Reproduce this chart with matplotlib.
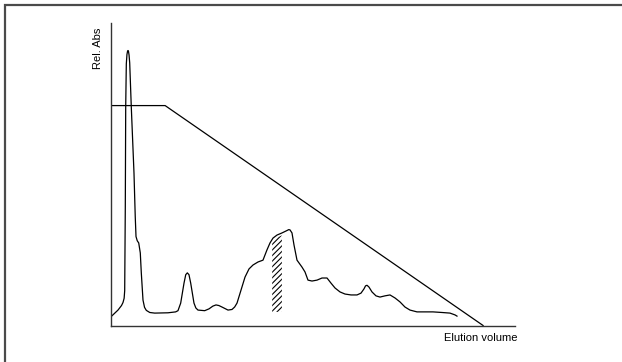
import numpy as np
import matplotlib
matplotlib.use("Agg")
import matplotlib.pyplot as plt
from matplotlib.patches import Rectangle

plt.rcParams['font.family'] = ['Liberation Sans', 'DejaVu Sans']

# chromatogram trace (elution volume, relative absorbance)
volume = [0.0, 1.73, 2.6, 2.97, 3.25, 3.39, 3.54, 3.64, 3.79, 3.95, 4.1, 4.21,
          4.32, 4.47, 4.63, 5.02, 5.69, 6.0, 6.19, 6.5,
          6.86, 7.25, 7.50, 7.92, 8.3, 8.74, 9.6, 10.82, 14.11, 16.0, 16.58,
          17.25, 18.07, 18.5, 18.89, 19.3,
          19.73, 20.54, 21.0, 21.53, 23.19, 24.26, 25.2, 25.99, 26.7, 27.48, 28.96,
          29.95, 30.6, 31.19,
          32.18, 33.17, 34.16, 35.15, 36.39, 37.62, 38.61, 39.36, 40.10, 41.09,
          42.33, 43.56, 44.0, 44.31, 44.80, 45.30, 46.04, 47.28, 48.02, 48.76, 49.75,
          50.99, 52.23, 53.47, 54.46, 55.45, 56.68, 57.92, 59.41, 60.89, 61.88,
          62.62, 63.0, 63.37, 63.86, 64.60, 65.59, 66.58, 67.82, 69.06, 70.30, 71.53,
          72.77, 74.01, 75.74, 77.72, 79.70, 81.93, 83.91, 85.15, 85.64]
absorbance = [2.9, 5.1, 6.6, 7.6, 9.0, 11.5, 39.3, 72.3, 86.5, 89.6, 90.7, 90.9,
              90.7, 89.4, 86.8, 72.3, 50.4, 36.0, 29.4, 28.0,
              27.3, 24.0, 17.4, 8.4, 6.0, 5.0, 4.3, 4.1, 4.2, 4.5, 4.9,
              7.4, 14.0, 16.8, 17.4, 16.8,
              14.0, 7.4, 5.8, 5.1, 4.9, 5.5, 6.4, 6.8, 6.6, 6.1, 5.1,
              5.3, 6.1, 7.4,
              11.7, 16.0, 18.7, 20.0, 21.0, 21.6, 25.0, 27.3, 28.9, 29.9,
              30.6, 31.4, 31.7, 31.6, 30.6, 26.6, 21.6, 19.3, 17.7, 15.0, 14.7,
              15.0, 15.7, 15.7, 14.0, 12.4, 11.1, 10.4, 10.1, 10.1, 10.7,
              12.1, 13.1, 13.3, 12.7, 11.1, 9.8, 9.4, 9.8, 10.1, 9.1, 7.8,
              6.1, 5.1, 4.5, 4.5, 4.5, 4.3, 4.1, 3.5, 3.1]

# salt gradient
grad_volume = [0.0, 13.4, 92.1]
grad_level = [72.7, 72.7, 0.0]

# collected fraction (hatched)
fraction = [39.9, 42.3]
fraction_base = 4.5

fig = plt.figure(figsize=(6.22, 3.62), dpi=100)

# outer frame
fig.patches.append(Rectangle((5 / 622, -0.1), 1.2, 1.1 - 5 / 362,
                             transform=fig.transFigure, fill=False,
                             edgecolor='#4a4a4a', linewidth=1.6))

ax = fig.add_axes([111 / 622, (362 - 325.5) / 362, 404 / 622, 302.5 / 362])
ax.set_xlim(0, 100)
ax.set_ylim(0, 100)
for side in ['top', 'right']:
    ax.spines[side].set_visible(False)
for side in ['left', 'bottom']:
    ax.spines[side].set_linewidth(1.0)
    ax.spines[side].set_color('#333333')
ax.set_xticks([])
ax.set_yticks([])
ax.patch.set_alpha(0)

ax.plot(volume, absorbance, color='black', linewidth=0.9,
        solid_joinstyle='round')
ax.plot(grad_volume, grad_level, color='black', linewidth=0.9)

xf = np.linspace(fraction[0], fraction[1], 20)
yf = np.interp(xf, volume, absorbance) - 0.8
plt.rcParams['hatch.linewidth'] = 0.8
ax.fill_between(xf, fraction_base, yf, facecolor='none', edgecolor='black',
                hatch='//////', linewidth=0)

fig.text(517 / 622, 1 - 338 / 362, 'Elution volume', fontsize=8,
         ha='right', va='center')
fig.text(98 / 622, 1 - 28 / 362, 'Rel. Abs', fontsize=8, rotation=90,
         ha='center', va='top')

fig.savefig('out.png', dpi=100)
